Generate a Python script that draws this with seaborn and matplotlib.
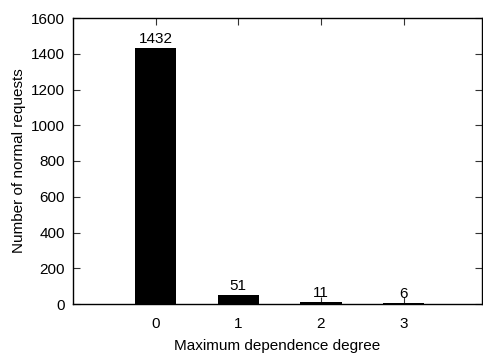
import matplotlib
matplotlib.use("Agg")
import matplotlib.pyplot as plt
import seaborn as sns
import pandas as pd

degrees = ["0", "1", "2", "3"]
counts = [1432, 51, 11, 6]

sns.set_style("ticks")
plt.rcParams["font.family"] = ["Liberation Sans", "DejaVu Sans"]
plt.rcParams["text.color"] = "black"
plt.rcParams["axes.labelcolor"] = "black"
plt.rcParams["xtick.color"] = "black"
plt.rcParams["ytick.color"] = "black"

df = pd.DataFrame({"degree": degrees, "count": counts})

fig = plt.figure(figsize=(4.83, 3.58), dpi=100)
ax = fig.add_axes([73 / 483, 1 - 304 / 358, 409 / 483, (304 - 18) / 358])

sns.barplot(data=df, x="degree", y="count", color="black", width=0.5,
            saturation=1, ax=ax, edgecolor="black", linewidth=0)

for i, v in enumerate(counts):
    ax.text(i, v + 12, str(v), ha="center", va="bottom", fontsize=11)

ax.set_xlim(-1, 3.95)
ax.set_ylim(0, 1600)
ax.set_yticks(range(0, 1601, 200))
ax.set_xlabel("Maximum dependence degree", fontsize=11, labelpad=6)
ax.set_ylabel("Number of normal requests", fontsize=11, labelpad=3)

for s in ax.spines.values():
    s.set_visible(True)
    s.set_linewidth(1.0)
    s.set_color("black")

ax.tick_params(axis="both", direction="in", length=5, width=0.8,
               color="#333333", labelcolor="black", labelsize=11,
               top=True, right=True, pad=6)
ax.tick_params(axis="x", pad=9)

fig.savefig("out.png", dpi=100)
